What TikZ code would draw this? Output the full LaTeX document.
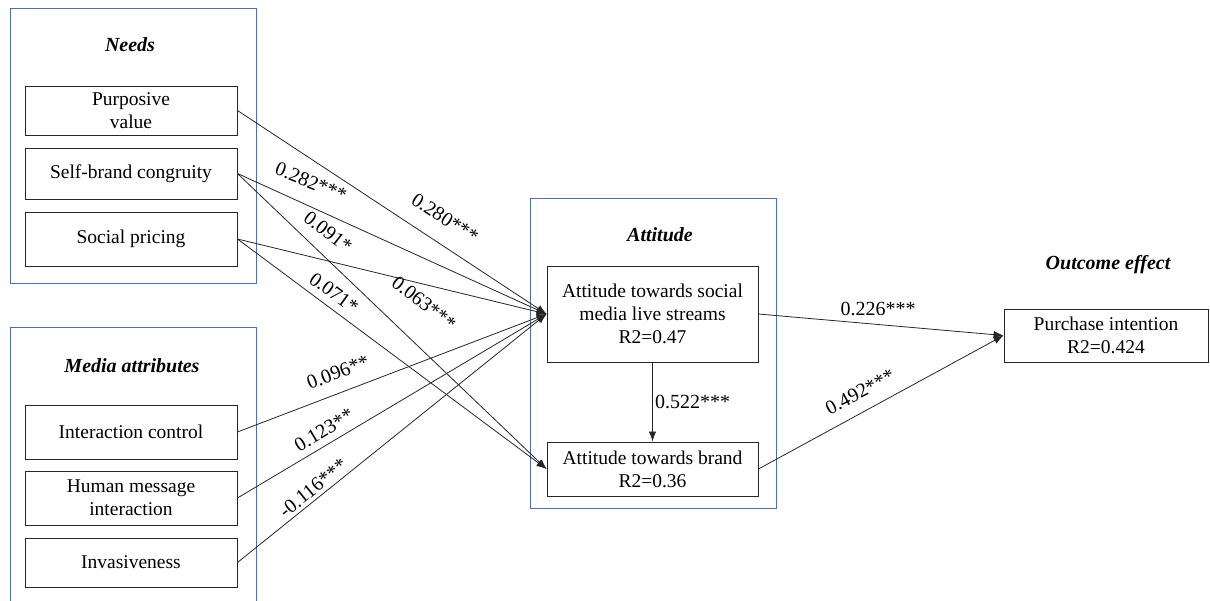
\documentclass[tikz,border=0pt]{standalone}
\usepackage{fontspec}
\setmainfont{Liberation Serif}
\usetikzlibrary{arrows.meta}
\definecolor{framec}{RGB}{79,110,170}

\begin{document}
\begin{tikzpicture}[x=1pt, y=-1pt]
  \tikzstyle{var}=[draw=black!85, line width=0.9pt, align=center, inner sep=1pt,
                   minimum width=212pt, font=\fontsize{19.5}{23}\selectfont]
  \tikzstyle{group}=[draw=framec, line width=0.9pt]
  \tikzstyle{title}=[font=\fontsize{20}{23}\selectfont\bfseries\itshape]
  \tikzstyle{coef}=[font=\fontsize{20}{22}\selectfont, inner sep=0pt]
  \tikzstyle{edge}=[-{Latex[length=10pt, width=7.5pt]}, line width=0.8pt, black!85]

  \useasboundingbox (0,0) rectangle (1210,601);

  % groups
  \draw[group] (10,8)   rectangle (256,283);
  \draw[group] (10,327) rectangle (256,640);
  \draw[group] (530,198) rectangle (776,508);

  \node[title] (tneeds) at (130,45)  {Needs};
  \node[title] (tmedia) at (132,366) {Media attributes};
  \node[title] (tatt)   at (660,235) {Attitude};
  \node[title] (tout)   at (1108,265) {Outcome effect};

  % variables
  \node[var, minimum height=49pt] (pv)  at (131,110.5) {Purposive\\value};
  \node[var, minimum height=51pt] (sbc) at (131,173.5) {Self-brand congruity};
  \node[var, minimum height=54pt] (sp)  at (131,239)   {Social pricing};
  \node[var, minimum height=54pt] (ic)  at (131,432)   {Interaction control};
  \node[var, minimum height=54pt] (hmi) at (131,498)   {Human message\\interaction};
  \node[var, minimum height=49pt] (inv) at (131,562.5) {Invasiveness};

  \node[var, minimum width=211pt, minimum height=96pt] (atl) at (652.5,314)
       {Attitude towards social\\media live streams\\R2=0.47};
  \node[var, minimum width=211pt, minimum height=54pt] (atb) at (652.5,469)
       {Attitude towards brand\\R2=0.36};
  \node[var, minimum width=204pt, minimum height=53pt] (pi) at (1106,335.5)
       {Purchase intention\\R2=0.424};

  % paths
  \path[edge] (pv.east)  edge (atl.west);
  \path[edge] (sbc.east) edge (atl.west);
  \path[edge] (sbc.east) edge (atb.west);
  \path[edge] (sp.east)  edge (atl.west);
  \path[edge] (sp.east)  edge (atb.west);
  \path[edge] (ic.east)  edge (atl.west);
  \path[edge] (hmi.east) edge (atl.west);
  \path[edge] (inv.east) edge (atl.west);
  \path[edge] (atl.south) edge (atb.north);
  \path[edge] (atl.east) edge (pi.west);
  \path[edge] (atb.east) edge (pi.west);

  % coefficients
  \node[coef, rotate=-33] (c1)  at (445,218) {0.280***};
  \node[coef, rotate=-22] (c2)  at (311,182) {0.282***};
  \node[coef, rotate=-38] (c3)  at (328,232) {0.091*};
  \node[coef, rotate=-36] (c4)  at (334,293) {0.071*};
  \node[coef, rotate=-38] (c5)  at (424,303) {0.063***};
  \node[coef, rotate=21]  (c6)  at (338,372) {0.096**};
  \node[coef, rotate=31]  (c7)  at (324,430) {0.123**};
  \node[coef, rotate=39]  (c8)  at (313,488) {-0.116***};
  \node[coef, anchor=west] (c9) at (655,402) {0.522***};
  \node[coef] (c10) at (878,309) {0.226***};
  \node[coef, rotate=28]  (c11) at (860,392) {0.492***};
\end{tikzpicture}
\end{document}
